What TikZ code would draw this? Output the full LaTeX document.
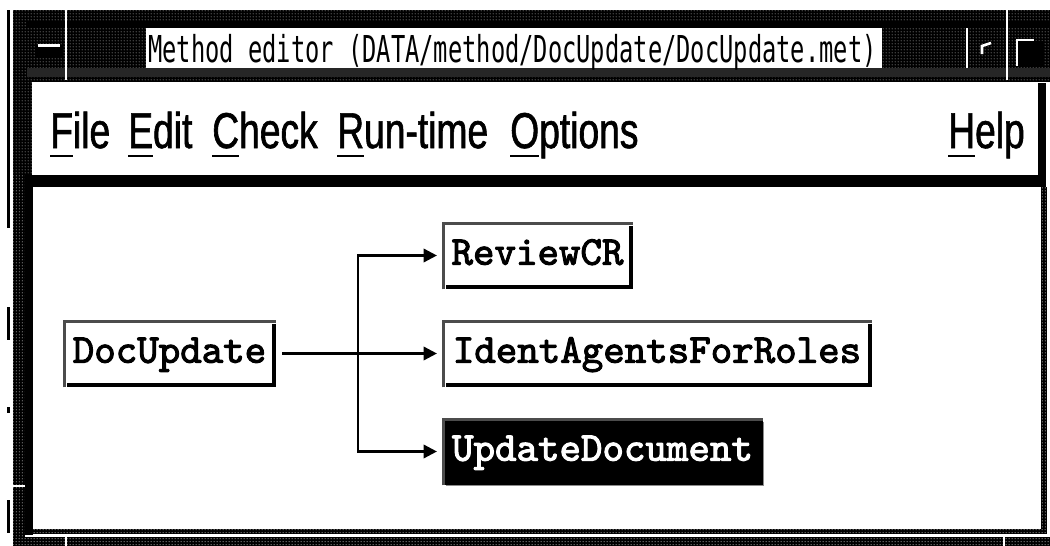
\documentclass[tikz,border=0pt]{standalone}
\usepackage{fontspec}
\usetikzlibrary{arrows.meta,patterns.meta}
\newfontfamily\titlefont{DejaVu Sans Mono}[FakeStretch=0.64]
\newfontfamily\menufont{Liberation Sans}[FakeStretch=0.74,FakeBold=1.2]
\newfontfamily\procfont{lmmono10-regular.otf}[FakeBold=2.5]
% menu entry with its mnemonic letter underlined
\newcommand\mkey[1]{\setbox0\hbox{#1}\rlap{\rule[-7pt]{\wd0}{2pt}}#1}

% dithered grey of the window frame
\tikzdeclarepattern{
  name=stipdots,
  type=uncolored,
  bottom left={(0pt,0pt)},
  top right={(2.25pt,2.25pt)},
  tile size={(2.25pt,2.25pt)},
  code={\pgfpathcircle{\pgfpoint{1.125pt}{1.125pt}}{0.42pt}\pgfusepath{fill}}
}

\begin{document}
\begin{tikzpicture}[x=0.75pt,y=-0.75pt,
  stip/.style={fill=black, postaction={pattern=stipdots, pattern color=white}},
  sep/.style={draw=white, line width=1.2pt},
  menuitem/.style={anchor=base west, inner sep=0pt, font=\menufont\fontsize{37.7}{40}\selectfont},
  procbox/.style={inner sep=0pt, minimum height=67*0.75pt, text height=18.8pt, text depth=5pt,
    font=\procfont\fontsize{30.7}{32}\selectfont},
  stipline/.style={draw=black!70, line width=2.3pt},
  shadowline/.style={draw=black, line width=3pt},
  conn/.style={draw=black, line width=1.9pt, shorten >=3.6pt, -{Triangle[length=10pt,width=10pt]}},
]
\useasboundingbox (0,0) rectangle (1050,546);
\fill[white] (0,0) rectangle (1050,546);

% ---- window frame ----
\path[stip] (13,10) rectangle (1050,82);
\path[stip] (13,10) rectangle (32,175);
\path[stip] (13,175) rectangle (25,546);
\path[stip] (13,537) rectangle (1050,546);
\path[stip] (1041,187) rectangle (1047,534);
\path[stip] (33,529) rectangle (1047,534);
\fill[black] (27,21) rectangle (1050,27);
\fill[black!85] (27,68) rectangle (1050,77);
\draw[sep] (66,10) -- (66,80);
\draw[sep] (1007,10) -- (1007,80);
\draw[sep] (967,28) -- (967,68);
\draw[sep] (66,537) -- (66,546);
\draw[sep] (1004,537) -- (1004,546);
\draw[sep] (13,486) -- (25,486);

% outer edge marks on the left
\foreach \a/\b in {10/228, 307/340, 407/413, 500/533}
  \fill[black] (7,\a) rectangle (10,\b);

% ---- title bar ----
\fill[white] (146,28) rectangle (882,68);
\node[anchor=base west, inner sep=0pt, font=\titlefont\fontsize{27.8}{28}\selectfont]
  (title) at (148,62) {Method editor (DATA/method/DocUpdate/DocUpdate.met)};
% window menu button
\fill[black] (36,45) rectangle (62,57);
\fill[white] (38,44) rectangle (60,46.5);
% maximise button
\draw[white, line width=2pt] (982,54) -- (982,46) -- (991,43);
% iconify button
\fill[black] (1018,41) rectangle (1043,66);
\draw[white, line width=2pt] (1017,66) -- (1017,40) -- (1034,40);

% ---- menu bar ----
\fill[black] (1038,83) rectangle (1046,187);
\fill[black] (25,175) rectangle (1046,187);
\fill[black] (25,175) rectangle (33,535);
\node[menuitem] (mfile) at (50,148) {\mkey{F}ile};
\node[menuitem] (medit) at (128,148) {\mkey{E}dit};
\node[menuitem] (mcheck) at (212,148) {\mkey{C}heck};
\node[menuitem] (mrun) at (337,148) {\mkey{R}un-time};
\node[menuitem] (mopt) at (510,148) {\mkey{O}ptions};
\node[menuitem] (mhelp) at (948,148) {\mkey{H}elp};

% ---- method graph ----
\node[procbox, minimum width=213*0.75pt] (doc) at (169.5,353.5) {DocUpdate};
\node[procbox, minimum width=191*0.75pt] (review) at (537.5,255.5) {ReviewCR};
\node[procbox, minimum width=430*0.75pt] (ident) at (657,353.5) {IdentAgentsForRoles};
\node[procbox, minimum width=321*0.75pt, fill=black, text=white] (upd) at (602.5,451.5) {UpdateDocument};

\foreach \n in {doc, review, ident}{
  \draw[stipline] ([xshift=1.1pt]\n.south west) |- ([yshift=-1.1pt]\n.north east);
  \draw[shadowline] ([xshift=-1.5pt,yshift=-3pt]\n.north east) |- ([xshift=3pt,yshift=1.5pt]\n.south west);
}
\draw[stipline] ([xshift=1.1pt]upd.south west) |- ([yshift=-1.1pt]upd.north east);
\draw[black!45, line width=0.8pt] ([yshift=-3pt]upd.north east) |- ([xshift=3pt]upd.south west);

\coordinate (fork) at (358,353.5);
\draw[conn, shorten <=4.5pt] (doc.east) -- (ident.west);
\draw[conn] (fork) |- (review.west);
\draw[conn] (fork) |- (upd.west);
\end{tikzpicture}
\end{document}
